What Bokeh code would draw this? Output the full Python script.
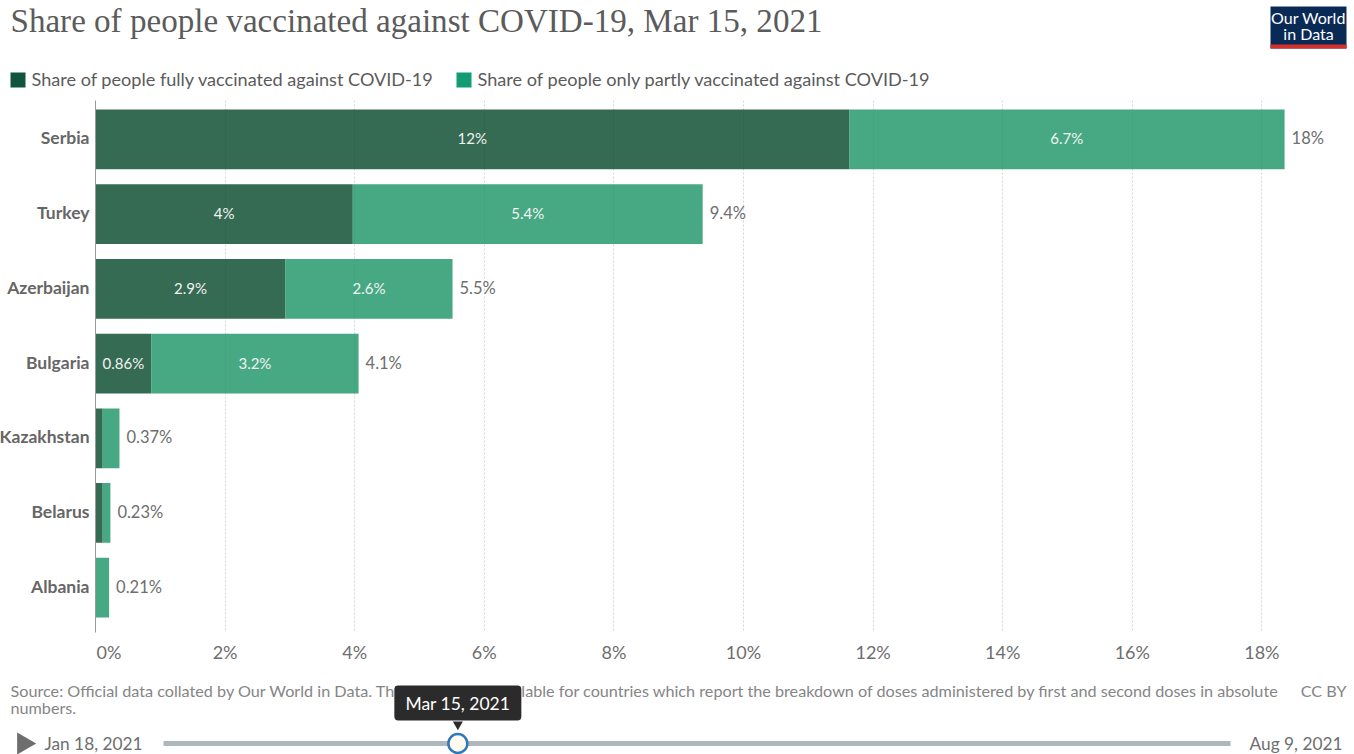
from datetime import datetime

from bokeh.core.properties import value
from bokeh.embed import file_html
from bokeh.layouts import column
from bokeh.models import ColumnDataSource, FixedTicker, Range1d
from bokeh.plotting import figure
from bokeh.resources import INLINE

title_text = "Share of people vaccinated against COVID-19, Mar 15, 2021"
legend_full = "Share of people fully vaccinated against COVID-19"
legend_partial = "Share of people only partly vaccinated against COVID-19"
source_line1 = ("Source: Official data collated by Our World in Data. This data is only available for countries "
                "which report the breakdown of doses administered by first and second doses in absolute")
source_line2 = "numbers."
licence = "CC BY"

countries = ["Serbia", "Turkey", "Azerbaijan", "Bulgaria", "Kazakhstan", "Belarus", "Albania"]
fully = [11.63, 3.97, 2.93, 0.86, 0.11, 0.11, 0.0]
partly = [6.72, 5.40, 2.58, 3.20, 0.26, 0.12, 0.21]
tick_values = [0, 2, 4, 6, 8, 10, 12, 14, 16, 18]

slider_start = datetime(2021, 1, 18)
slider_end = datetime(2021, 8, 9)
slider_now = datetime(2021, 3, 15)
start_label = "Jan 18, 2021"
end_label = "Aug 9, 2021"
now_label = "Mar 15, 2021"

DARK, LIGHT = "#034627", "#199364"
DARK_KEY, LIGHT_KEY = "#11563c", "#119c73"
SANS = "Lato"
W = 1354
HEADER_H, MAIN_H, FOOTER_H = 100, 578, 76


def fmt(v):
    return f"{v:.2g}%"


def canvas(height):
    """A blank strip whose data coordinates run in pixels from the top left."""
    f = figure(width=W, height=height, x_range=Range1d(0, W), y_range=Range1d(height, 0),
               toolbar_location=None, output_backend="svg", min_border=0, frame_align=False,
               outline_line_color=None, background_fill_color="white", border_fill_color="white")
    f.axis.visible = False
    f.grid.visible = False
    return f


# ---- header: title, legend key and logo
header = canvas(HEADER_H)
header.text([10], [20], text=[title_text], text_font=value("Liberation Serif"), text_font_size="33.1px",
            text_color="#5b5b5b", text_baseline="middle")
header.quad(left=[10], right=[25], top=[72], bottom=[87], fill_color=DARK_KEY, line_color=None)
header.text([31], [78], text=[legend_full], text_font=value(SANS), text_font_size="18.1px",
            text_color="#5b5b5b", text_baseline="middle")
header.quad(left=[456], right=[471], top=[72], bottom=[87], fill_color=LIGHT_KEY, line_color=None)
header.text([477], [78], text=[legend_partial], text_font=value(SANS), text_font_size="18.15px",
            text_color="#5b5b5b", text_baseline="middle")
header.quad(left=[1270], right=[1346], top=[6], bottom=[48], fill_color="#0a2a56", line_color=None)
header.quad(left=[1270], right=[1346], top=[44], bottom=[48], fill_color="#d5312a", line_color=None)
header.text([1308, 1308], [17, 33], text=["Our World", "in Data"], text_font=value(SANS), text_font_size="16px",
            text_color="white", text_align="center", text_baseline="middle")

# ---- main chart: stacked horizontal bars on a linear percentage axis
# The country labels need a little more room than the axis offset allows, so the
# strip is widened and pulled left by the same amount.
PX_PER_UNIT = 64.8
PX_PER_ROW = 74.67
PULL = 4
LEFT, RIGHT_PAD, BOTTOM = 99, 14, 46
MAIN_W = W + PULL
FRAME_W = MAIN_W - LEFT - RIGHT_PAD - PULL
rows = list(range(len(countries)))
main = figure(width=MAIN_W, height=MAIN_H,
              x_range=Range1d(0, FRAME_W / PX_PER_UNIT),
              y_range=Range1d(6.6, -0.522),
              toolbar_location=None, output_backend="svg", frame_align=False,
              margin=(0, 0, 0, -PULL),
              min_border_left=LEFT, min_border_right=RIGHT_PAD, min_border_top=0, min_border_bottom=BOTTOM,
              outline_line_color=None, background_fill_color="white", border_fill_color="white")

totals = [a + b for a, b in zip(fully, partly)]
src = ColumnDataSource(dict(y=rows, full=fully, total=totals))
main.hbar(y="y", left=0, right="full", height=0.8, source=src, fill_color=DARK, fill_alpha=0.8, line_color=None)
main.hbar(y="y", left="full", right="total", height=0.8, source=src, fill_color=LIGHT, fill_alpha=0.8, line_color=None)

# Segment values go inside a bar only when the segment is wide enough to hold them
in_x, in_y, in_t = [], [], []
for i, (a, b) in enumerate(zip(fully, partly)):
    if a >= 0.5:
        in_x.append(a / 2)
        in_y.append(i)
        in_t.append(fmt(a))
    if b >= 0.5:
        in_x.append(a + b / 2)
        in_y.append(i)
        in_t.append(fmt(b))
main.text(in_x, in_y, text=in_t, text_font=value(SANS), text_font_size="15px", text_color="#f2f2f2",
          text_align="center", text_baseline="middle", y_offset=-1)
main.text(totals, rows, text=[fmt(t) for t in totals], x_offset=7, y_offset=-1, text_font=value(SANS),
          text_font_size="16.5px", text_color="#6e6e6e", text_align="left", text_baseline="middle")

# The zero label sits right of the axis line rather than centred on it
zero_label_at = round(13.5 / PX_PER_UNIT, 3)
label_ticks = [zero_label_at] + tick_values[1:]
overrides = {v: f"{v}%" for v in tick_values[1:]}
overrides[zero_label_at] = f"{tick_values[0]}%"
main.xaxis.ticker = FixedTicker(ticks=label_ticks)
main.xaxis.major_label_overrides = overrides
main.xaxis.axis_line_color = None
main.xaxis.major_tick_line_color = None
main.xaxis.minor_tick_line_color = None
main.xaxis.major_tick_out = 0
main.xaxis.major_label_text_font = SANS
main.xaxis.major_label_text_font_size = "18px"
main.xaxis.major_label_text_color = "#6e6e6e"
main.xaxis.major_label_standoff = 8

# Country names are nudged up slightly so they centre optically on their bars
name_ticks = [round(r - 1.5 / PX_PER_ROW, 3) for r in rows]
main.yaxis.ticker = FixedTicker(ticks=name_ticks)
main.yaxis.major_label_overrides = dict(zip(name_ticks, countries))
main.yaxis.axis_line_color = "#999999"
main.yaxis.major_tick_line_color = None
main.yaxis.minor_tick_line_color = None
main.yaxis.major_tick_out = 0
main.yaxis.major_label_text_font = SANS
main.yaxis.major_label_text_font_size = "17.5px"
main.yaxis.major_label_text_font_style = "bold"
main.yaxis.major_label_text_color = "#666666"
main.yaxis.major_label_standoff = 6

main.ygrid.visible = False
main.xgrid.ticker = FixedTicker(ticks=tick_values[1:])
main.xgrid.grid_line_color = "#d6d6d6"
main.xgrid.grid_line_dash = "2 2"

# ---- footer: source note and the timeline control
footer = canvas(FOOTER_H)
footer.text([10, 10], [12, 29], text=[source_line1, source_line2], text_font=value(SANS), text_font_size="16.2px",
            text_color="#858585", text_baseline="middle")
footer.text([1346], [12], text=[licence], text_font=value(SANS), text_font_size="16.2px",
            text_color="#858585", text_align="right", text_baseline="middle")

# Timeline positions come from a date scale that spans the page width
SLIDER_L, SLIDER_R = 163, 1230
t0, t1 = slider_start.timestamp() * 1000, slider_end.timestamp() * 1000
ms_per_px = (t1 - t0) / (SLIDER_R - SLIDER_L)
footer.extra_x_ranges["date"] = Range1d(t0 - SLIDER_L * ms_per_px, t1 + (W - SLIDER_R) * ms_per_px)
TRACK_Y = 65
footer.line([slider_start, slider_end], [TRACK_Y, TRACK_Y], x_range_name="date", line_color="#aeb7bc",
            line_width=5, line_cap="butt")
footer.scatter([slider_now], [TRACK_Y], x_range_name="date", marker="circle", size=19, fill_color="#fdfaf2",
               line_color="#2f79b8", line_width=2.5)
# The date bubble sits above the source note and hides part of it
footer.rect([slider_now], [24.5], width=127, height=35, x_range_name="date", width_units="screen",
            height_units="screen", fill_color="#2b2b2b", line_color=None, border_radius=4)
footer.scatter([slider_now], [46], x_range_name="date", marker="inverted_triangle", size=10,
               fill_color="#2b2b2b", line_color=None)
footer.text([slider_now], [25], x_range_name="date", text=[now_label], text_font=value(SANS),
            text_font_size="17.5px", text_color="white", text_align="center", text_baseline="middle")
footer.text([44], [TRACK_Y], text=[start_label], text_font=value(SANS), text_font_size="17.3px",
            text_color="#6e6e6e", text_baseline="middle")
footer.text([1342], [TRACK_Y], text=[end_label], text_font=value(SANS), text_font_size="17.3px",
            text_color="#6e6e6e", text_align="right", text_baseline="middle")
footer.scatter([23], [TRACK_Y], marker="triangle", size=22, angle=-90, angle_units="deg",
               fill_color="#6e6e6e", line_color=None)

page = column(header, main, footer, spacing=0)
open("out.html", "w").write(file_html(page, INLINE))
